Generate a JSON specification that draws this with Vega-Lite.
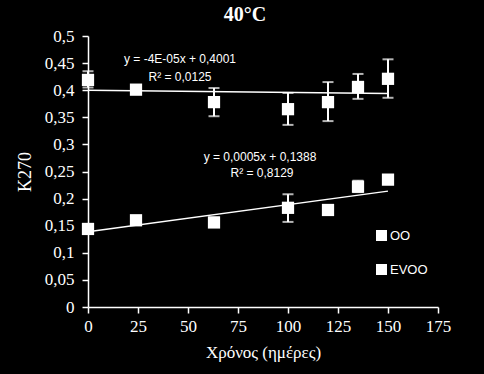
{
  "$schema": "https://vega.github.io/schema/vega-lite/v6.json",
  "width": 350,
  "height": 271,
  "autosize": "none",
  "padding": {"left": 88, "top": 36, "right": 46, "bottom": 67},
  "background": "black",
  "config": {
    "view": {"stroke": null},
    "axis": {"grid": false, "labelOverlap": false, "labelFlush": false, "domainColor": "white", "tickColor": "white", "labelColor": "white", "titleColor": "white", "labelFont": "Liberation Serif", "titleFont": "Liberation Serif", "labelFontSize": 17, "titleFontSize": 17, "titleFontWeight": "normal", "tickSize": 6, "domainWidth": 1.5, "tickWidth": 1.5}
  },
  "title": {"text": "40°C", "font": "Liberation Serif", "fontSize": 20, "fontWeight": "bold", "color": "white", "anchor": "middle", "dx": -18, "offset": 2},
  "datasets": {
    "pts": [
      {"series": "OO", "day": 0, "k": 0.419, "lo": 0.405, "hi": 0.435},
      {"series": "OO", "day": 24, "k": 0.401, "lo": null, "hi": null},
      {"series": "OO", "day": 63, "k": 0.378, "lo": 0.352, "hi": 0.404},
      {"series": "OO", "day": 100, "k": 0.365, "lo": 0.336, "hi": 0.395},
      {"series": "OO", "day": 120, "k": 0.378, "lo": 0.343, "hi": 0.415},
      {"series": "OO", "day": 135, "k": 0.406, "lo": 0.384, "hi": 0.430},
      {"series": "OO", "day": 150, "k": 0.421, "lo": 0.386, "hi": 0.457},
      {"series": "EVOO", "day": 0, "k": 0.144, "lo": null, "hi": null},
      {"series": "EVOO", "day": 24, "k": 0.160, "lo": null, "hi": null},
      {"series": "EVOO", "day": 63, "k": 0.156, "lo": 0.150, "hi": 0.165},
      {"series": "EVOO", "day": 100, "k": 0.183, "lo": 0.157, "hi": 0.208},
      {"series": "EVOO", "day": 120, "k": 0.179, "lo": null, "hi": null},
      {"series": "EVOO", "day": 135, "k": 0.222, "lo": 0.212, "hi": 0.233},
      {"series": "EVOO", "day": 150, "k": 0.235, "lo": null, "hi": null}
    ],
    "trend": [
      {"series": "OO", "day": 0, "k": 0.4001},
      {"series": "OO", "day": 150, "k": 0.3941},
      {"series": "EVOO", "day": 0, "k": 0.1388},
      {"series": "EVOO", "day": 150, "k": 0.2138}
    ],
    "labels": [
      {"day": 46, "k": 0.457, "txt": "y = -4E-05x + 0,4001"},
      {"day": 46, "k": 0.424, "txt": "R² = 0,0125"},
      {"day": 86, "k": 0.277, "txt": "y = 0,0005x + 0,1388"},
      {"day": 87, "k": 0.247, "txt": "R² = 0,8129"}
    ]
  },
  "encoding": {
    "x": {"field": "day", "type": "quantitative", "scale": {"domain": [0, 175], "nice": false}, "axis": {"values": [0, 25, 50, 75, 100, 125, 150, 175], "labelFlush": false, "title": "Χρόνος (ημέρες)", "labelPadding": 5, "titlePadding": 10}},
    "y": {"field": "k", "type": "quantitative", "scale": {"domain": [0, 0.5], "nice": false}, "axis": {"tickCount": 10, "labelOverlap": false, "labelFlush": false, "labelExpr": "replace(format(datum.value, '.2~f'), '.', ',')", "title": "K270", "titleFontSize": 18, "labelPadding": 8, "titlePadding": 10}}
  },
  "layer": [
    {
      "data": {"name": "trend"},
      "mark": {"type": "line", "color": "white", "strokeWidth": 1.5},
      "encoding": {
        "detail": {"field": "series"}
      }
    },
    {
      "data": {"name": "pts"},
      "transform": [{"filter": "datum.lo != null"}],
      "mark": {"type": "rule", "color": "white", "strokeWidth": 2},
      "encoding": {
        "y": {"field": "lo", "type": "quantitative"},
        "y2": {"field": "hi"}
      }
    },
    {
      "data": {"name": "pts"},
      "transform": [{"filter": "datum.lo != null"}],
      "mark": {"type": "tick", "orient": "horizontal", "color": "white", "size": 11, "thickness": 2},
      "encoding": {
        "y": {"field": "lo", "type": "quantitative"}
      }
    },
    {
      "data": {"name": "pts"},
      "transform": [{"filter": "datum.lo != null"}],
      "mark": {"type": "tick", "orient": "horizontal", "color": "white", "size": 11, "thickness": 2},
      "encoding": {
        "y": {"field": "hi", "type": "quantitative"}
      }
    },
    {
      "data": {"name": "pts"},
      "mark": {"type": "square", "filled": true, "opacity": 1, "size": 150},
      "encoding": {
        "color": {"field": "series", "type": "nominal", "scale": {"domain": ["OO", "EVOO"], "range": ["white", "white"]},
          "legend": {"title": null, "orient": "none", "legendX": 287, "legendY": 193, "symbolType": "square", "symbolSize": 90, "symbolFillColor": "white", "symbolStrokeColor": "white", "labelColor": "white", "labelFont": "Liberation Sans", "labelFontSize": 13, "rowPadding": 17, "labelOffset": 2}}
      }
    },
    {
      "data": {"name": "labels"},
      "mark": {"type": "text", "color": "white", "font": "Liberation Sans", "fontSize": 12},
      "encoding": {
        "text": {"field": "txt"}
      }
    }
  ]
}
